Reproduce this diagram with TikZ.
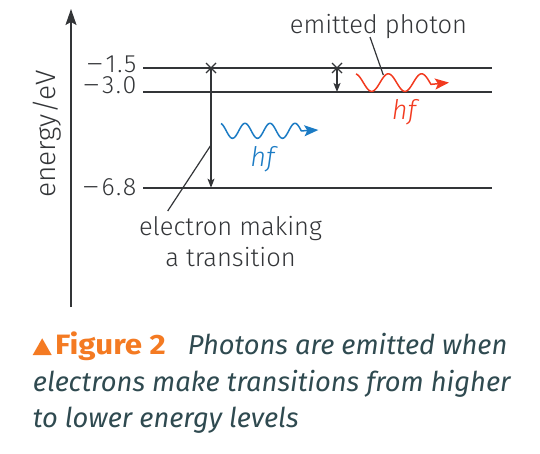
\documentclass[tikz,border=0pt]{standalone}
\usepackage{fontspec}
\setmainfont{Fira Sans}
\newfontfamily\lightf{Fira Sans Light}
\usetikzlibrary{arrows.meta}
\definecolor{ink}{HTML}{333538}
\definecolor{wblue}{HTML}{1B7BC4}
\definecolor{wred}{HTML}{F23A1F}
\definecolor{orng}{HTML}{F47A22}
\definecolor{capc}{HTML}{2F4A50}
\newcommand\mymin{\scalebox{1.5}[1]{−}\kern1.5pt}
\newcommand\mydot{\kern1.5pt.\kern1.5pt}
\tikzset{
  lvl/.style={draw=ink, line width=1.6pt},
  trans/.style={draw=ink, line width=1.3pt, -{Stealth[length=9pt,width=7pt,inset=2pt]}},
  lbl/.style={font=\lightf\fontsize{25.5}{28}\selectfont, text=ink, inner sep=0pt},
  numlbl/.style={font=\lightf\fontsize{25}{27}\selectfont, text=ink, inner sep=0pt, anchor=base east},
  hflbl/.style={font=\lightf\itshape\fontsize{27}{29}\selectfont, inner sep=0pt},
  lead/.style={draw=ink, line width=1.2pt},
  wave/.style={line width=1.5pt, -{Stealth[length=14pt,width=11pt,inset=3pt]}},
  captxt/.style={font=\itshape\fontsize{27.3}{30}\selectfont, text=capc, inner sep=0pt, anchor=base west},
}
\begin{document}
\begin{tikzpicture}[x=1pt,y=-1pt]
\useasboundingbox (0,0) rectangle (540,453);
% axis
\coordinate (axb) at (71,307);
\coordinate (axt) at (71,9);
\draw[draw=ink, line width=1.5pt, -{Stealth[length=16pt,width=11pt,inset=3pt]}] (axb) -- (axt);
\node[lbl, rotate=90, font=\lightf\fontsize{28}{30}\selectfont] (ylab) at (47.5,134) {energy/eV};
% levels
\coordinate (l1a) at (143,68); \coordinate (l1b) at (492,68);
\coordinate (l2a) at (143,92);   \coordinate (l2b) at (492,92);
\coordinate (l3a) at (143,187.7);\coordinate (l3b) at (492,187.7);
\draw[lvl] (l1a) -- (l1b);
\draw[lvl] (l2a) -- (l2b);
\draw[lvl] (l3a) -- (l3b);
\node[numlbl] (v1) at (136.5,72.5) {\mymin 1\mydot 5};
\node[numlbl] (v2) at (136.5,93.5) {\mymin 3\mydot 0};
\node[numlbl] (v3) at (136.5,195) {\mymin 6\mydot 8};
% left transition
\coordinate (xa) at (211,68);
\coordinate (xa2) at (211,187.7);
\draw[draw=ink, line width=1.2pt] ([shift={(-5,-5)}]xa) -- ([shift={(5,5)}]xa) ([shift={(-5,5)}]xa) -- ([shift={(5,-5)}]xa);
\draw[trans] (xa) -- (xa2);
% right transition
\coordinate (xb) at (337,68);
\coordinate (xb2) at (337,92);
\draw[draw=ink, line width=1.2pt] ([shift={(-5,-5)}]xb) -- ([shift={(5,5)}]xb) ([shift={(-5,5)}]xb) -- ([shift={(5,-5)}]xb);
\draw[trans] (xb) -- (xb2);
% red photon
\coordinate (rtip) at (449,82.6);
\draw[wave, draw=wred, wred] plot[domain=356:431, samples=90] (\x, {82.6 - 8.8*cos((\x-355)/33.3*360)}) -- (rtip);
\node[hflbl, text=wred] (hfr) at (404,112) {hf};
% blue photon
\coordinate (btip) at (318.3,130);
\draw[wave, draw=wblue, wblue] plot[domain=221:301.3, samples=100] (\x, {130.8 - 7.5*cos((\x-220)/25*360)}) -- (btip);
\node[hflbl, text=wblue] (hfb) at (262.5,159) {hf};
% labels with leaders
\node[lbl, anchor=base] (emit) at (378.5,33.3) {emitted photon};
\coordinate (e1) at (370,37);
\coordinate (e2) at (383.3,75);
\draw[lead] (e1) -- (e2);
\node[lbl, anchor=base] (elec1) at (230.5,235) {electron making};
\node[lbl, anchor=base] (elec2) at (230.5,266.7) {a transition};
\coordinate (t1) at (167.7,211);
\coordinate (t2) at (211,145);
\draw[lead] (t1) -- (t2);
% caption
\fill[orng] (32.7,355) -- (42.2,338.3) -- (51.7,355) -- cycle;
\node[captxt, font=\bfseries\fontsize{28}{30}\selectfont, text=orng] (fig) at (55,354) {\scalebox{1.12}[1]{Figure 2}};
\node[captxt] (c1) at (187.7,354) {Photons are emitted when};
\node[captxt] (c2) at (32.7,391) {electrons make transitions from higher};
\node[captxt] (c3) at (32.7,427) {to lower energy levels};
\end{tikzpicture}
\end{document}
